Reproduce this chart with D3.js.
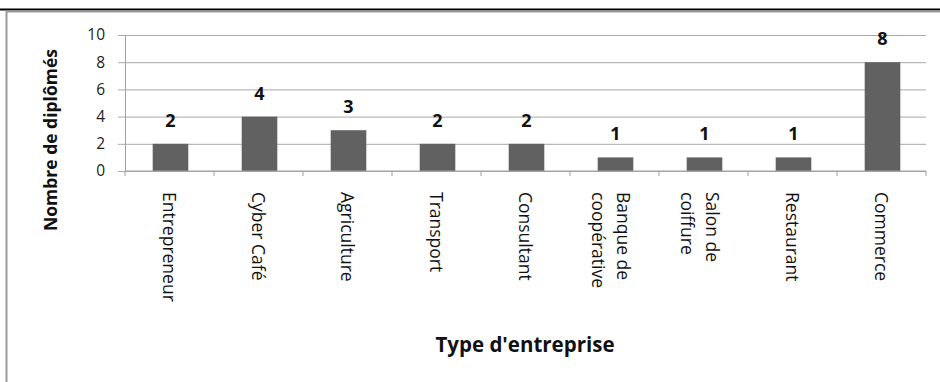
<!DOCTYPE html>
<html>
<head>
<meta charset="utf-8">
<script src="https://cdn.jsdelivr.net/npm/d3@7"></script>
<style>
  html, body { margin: 0; padding: 0; background: #fff; }
  svg { display: block; font-family: "Open Sans", Lato, sans-serif; }
</style>
</head>
<body>
<div id="chart"></div>
<script>
const categories = ["Entrepreneur", "Cyber Café", "Agriculture", "Transport", "Consultant",
  "Banque de|coopérative", "Salon de|coiffure", "Restaurant", "Commerce"];
const values = [2, 4, 3, 2, 2, 1, 1, 1, 8];
const yTicks = [0, 2, 4, 6, 8, 10];

const W = 940, H = 382;
const M = { top: 35, right: 14, bottom: 211, left: 125 };

const svg = d3.select("#chart").append("svg").attr("width", W).attr("height", H);

// frame bits visible at the top of the crop
svg.append("line").attr("x1", 0).attr("x2", W).attr("y1", 9.5).attr("y2", 9.5)
  .attr("stroke", "#000").attr("stroke-width", 2);
svg.append("path").attr("d", `M6.5,${H} V11.5 H${W}`).attr("fill", "none")
  .attr("stroke", "#9a9a9a").attr("stroke-width", 2);

const x = d3.scaleBand().domain(categories).range([M.left, W - M.right]).padding(0);
const y = d3.scaleLinear().domain([0, 10]).range([H - M.bottom, M.top]);
const barW = x.bandwidth() * 0.4;

// gridlines + y axis
const gy = svg.append("g").attr("transform", `translate(${M.left},0)`)
  .call(d3.axisLeft(y).tickValues(yTicks).tickSize(-(W - M.right - M.left)).tickFormat(""));
gy.selectAll(".tick line").attr("stroke", "#a8a8a8").attr("x1", -7);
gy.select(".domain").remove();

const ay = svg.append("g").attr("transform", `translate(${M.left},0)`)
  .call(d3.axisLeft(y).tickValues(yTicks).tickSize(0).tickPadding(20));
ay.select(".domain").attr("stroke", "#a0a0a0");
ay.selectAll("text").attr("font-size", 15.5).attr("fill", "#222").attr("font-family", "'Open Sans', sans-serif");

// bars
svg.selectAll(".bar").data(values).join("rect").attr("class", "bar")
  .attr("x", (d, i) => x(categories[i]) + (x.bandwidth() - barW) / 2 + 1)
  .attr("width", barW)
  .attr("y", (d) => y(d))
  .attr("height", (d) => y(0) - y(d))
  .attr("fill", "#616161");

// value labels
svg.selectAll(".val").data(values).join("text").attr("class", "val")
  .attr("x", (d, i) => x(categories[i]) + x.bandwidth() / 2 + 1)
  .attr("y", (d) => y(d) - 17)
  .attr("text-anchor", "middle").attr("font-weight", "bold").attr("font-size", 18)
  .attr("fill", "#111").text((d) => d);

// x axis
const ax = svg.append("g").attr("transform", `translate(0,${y(0)})`);
ax.append("line").attr("x1", M.left).attr("x2", W - M.right).attr("stroke", "#a0a0a0");
const bounds = categories.map((c) => x(c)).concat([W - M.right]);
ax.selectAll(".xt").data(bounds).join("line").attr("class", "xt")
  .attr("x1", (d) => d).attr("x2", (d) => d).attr("y1", 0).attr("y2", 5).attr("stroke", "#a0a0a0");

// category labels, rotated
categories.forEach((c, i) => {
  const lines = c.split("|");
  const cx = x(c) + x.bandwidth() / 2 + (lines.length > 1 ? -3.5 : 0.5);
  lines.forEach((ln, j) => {
    const off = (lines.length - 1) / 2 * 25 - j * 25;
    svg.append("text")
      .attr("transform", `translate(${cx + off},192) rotate(90)`)
      .attr("dominant-baseline", "central")
      .attr("font-size", 17.5).attr("fill", "#111").text(ln);
  });
});

// axis titles
svg.append("text").attr("transform", "translate(50,140) rotate(-90)")
  .attr("text-anchor", "middle").attr("dominant-baseline", "central")
  .attr("font-weight", "bold").attr("font-size", 17.5).attr("fill", "#111")
  .text("Nombre de diplômés");
svg.append("text").attr("x", 525).attr("y", 352)
  .attr("text-anchor", "middle").attr("font-weight", "bold").attr("font-size", 20.5).attr("fill", "#111")
  .text("Type d'entreprise");
</script>
</body>
</html>
